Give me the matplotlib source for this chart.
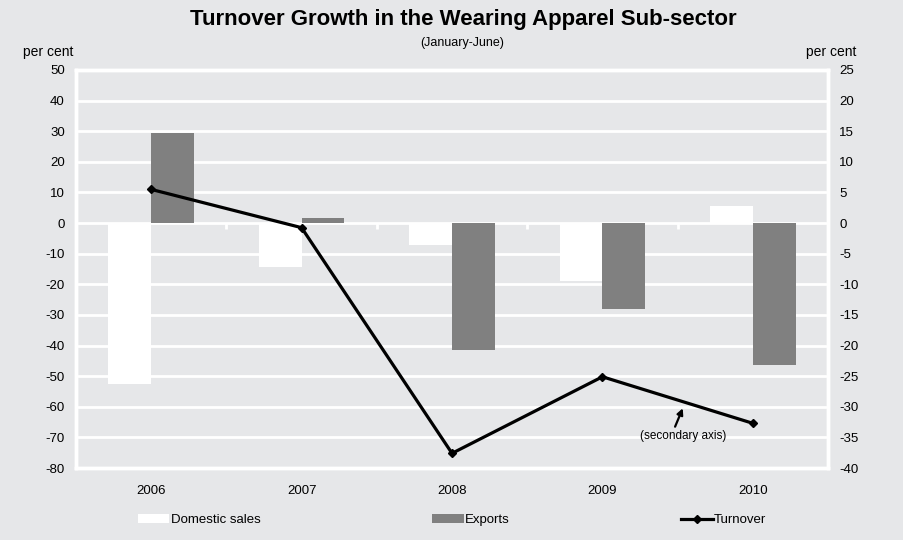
import numpy as np
import matplotlib
matplotlib.use('Agg')
import matplotlib.pyplot as plt
from matplotlib.patches import Patch
from matplotlib.lines import Line2D

years = ['2006', '2007', '2008', '2009', '2010']
domestic = [-52.5, -14.5, -7.0, -19.0, 5.5]
exports = [29.5, 1.5, -41.5, -28.0, -46.5]
turnover = [5.5, -0.75, -37.6, -25.1, -32.7]   # secondary axis

bg = '#e6e7e9'
plt.rcParams['font.family'] = ['Liberation Sans', 'DejaVu Sans']
plt.rcParams['axes.unicode_minus'] = False

fig = plt.figure(figsize=(9.04, 5.4), dpi=100, facecolor=bg)
ax = fig.add_axes([0.084, 0.1333, 0.832, 0.7371], facecolor=bg)
ax2 = ax.twinx()

x = np.arange(len(years))
w = 0.285
ax.set_axisbelow(True)
ax.bar(x - w / 2, domestic, w, color='white', zorder=2)
ax.bar(x + w / 2, exports, w, color='#808080', zorder=2)

# little ticks on the zero line between categories
ax.vlines(x[:-1] + 0.5, -1.8, 0, color='white', lw=2, zorder=2)

ax.set_ylim(-80, 50)
ax.set_yticks(np.arange(-80, 51, 10))
ax.set_xlim(-0.5, len(years) - 0.5)
ax.set_xticks(x)
ax.set_xticklabels(years)
ax.yaxis.grid(True, color='white', lw=2)
ax.tick_params(length=0, labelsize=9.5, pad=8)
ax.tick_params(axis='x', pad=12)

ax2.plot(x, turnover, color='black', lw=2.3, marker='D', ms=4.5, zorder=5)
ax2.set_ylim(-40, 25)
ax2.set_yticks(np.arange(-40, 26, 5))
ax2.tick_params(length=0, labelsize=9.5, pad=8)

for a in (ax, ax2):
    for s in a.spines.values():
        s.set_color('white')
        s.set_linewidth(2.5)

ax2.text(3.537, -34.8, '(secondary axis)', ha='center', va='center', fontsize=8.5)
ax2.annotate('', xy=(3.534, -30.25), xytext=(3.483, -33.25),
             arrowprops=dict(arrowstyle='-|>', color='black', lw=1.6,
                             mutation_scale=9, shrinkA=0, shrinkB=0))

fig.text(0.512, 0.963, 'Turnover Growth in the Wearing Apparel Sub-sector',
         ha='center', va='center', fontsize=16, fontweight='bold')
fig.text(0.511, 0.920, '(January-June)', ha='center', va='center', fontsize=9)
fig.text(0.053, 0.904, 'per cent', ha='center', va='center', fontsize=10)
fig.text(0.920, 0.904, 'per cent', ha='center', va='center', fontsize=10)

handles = [Patch(facecolor='white', edgecolor='none'),
           Patch(facecolor='#808080', edgecolor='none'),
           Line2D([], [], color='black', lw=2.3, marker='D', ms=4)]
fig.legend(handles, ['Domestic sales', 'Exports', 'Turnover'], ncol=3,
           loc='center', bbox_to_anchor=(0.5, 0.037), frameon=False,
           fontsize=9.5, columnspacing=13, handlelength=2.4, handletextpad=0.1)

fig.savefig('out.png', dpi=100, facecolor=bg)
